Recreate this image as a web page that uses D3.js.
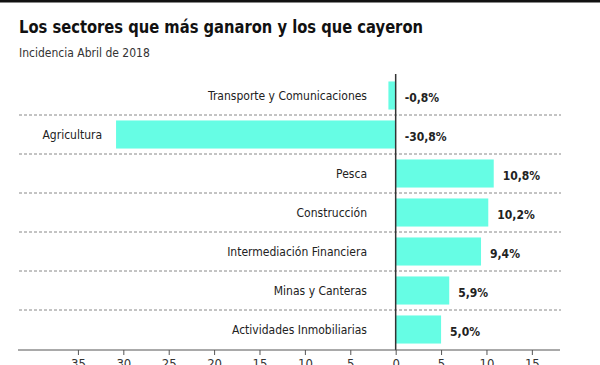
<!DOCTYPE html>
<html><head><meta charset="utf-8">
<script src="https://cdn.jsdelivr.net/npm/d3@7"></script>
<style>
html,body{margin:0;padding:0;background:#fff;}
svg{display:block;}
</style></head>
<body>
<script>
const categories = ["Transporte y Comunicaciones","Agricultura","Pesca","Construcción","Intermediación Financiera","Minas y Canteras","Actividades Inmobiliarias"];
const values = [-0.8,-30.8,10.8,10.2,9.4,5.9,5.0];
const valueLabels = ["-0,8%","-30,8%","10,8%","10,2%","9,4%","5,9%","5,0%"];
const tickValues = [-35,-30,-25,-20,-15,-10,-5,0,5,10,15];
const title = "Los sectores que más ganaron y los que cayeron";
const subtitle = "Incidencia Abril de 2018";

const W=600,H=365;
const font = "'DejaVu Sans Condensed','Liberation Sans Narrow','Arial Narrow',sans-serif";
const svg = d3.select("body").append("svg").attr("width",W).attr("height",H);

svg.append("rect").attr("x",0).attr("y",0).attr("width",W).attr("height",2.5).attr("fill","#111");

svg.append("text").attr("x",19).attr("y",33).attr("font-family",font).attr("font-weight","bold")
  .attr("font-size",18).attr("fill","#111").attr("textLength",404).attr("lengthAdjust","spacingAndGlyphs").text(title);
svg.append("text").attr("x",19).attr("y",57).attr("font-family",font)
  .attr("font-size",12).attr("fill","#333").text(subtitle);

const x = d3.scaleLinear().domain([-41.6,18.1]).range([18,560]);
const y = d3.scaleBand().domain(categories).range([76,349]).paddingInner(0.28).paddingOuter(0.14);
const step = y.step();

// dashed separators
const g = svg.append("g");
categories.slice(1).forEach(c=>{
  const yy = y(c) - y.paddingInner()*step/2;
  g.append("line").attr("x1",x.range()[0]+1).attr("x2",x.range()[1]+1).attr("y1",yy).attr("y2",yy)
   .attr("stroke","#888").attr("stroke-width",1).attr("stroke-dasharray","3,2");
});

// bars
svg.selectAll("rect.bar").data(values).join("rect").attr("class","bar")
  .attr("x",d=>x(Math.min(0,d))).attr("width",d=>Math.abs(x(d)-x(0)))
  .attr("y",(d,i)=>y(categories[i])).attr("height",y.bandwidth())
  .attr("fill","#66fde4");

// category labels
svg.selectAll("text.cat").data(categories).join("text").attr("class","cat")
  .attr("x",(d,i)=>Math.min(367, x(Math.min(0,values[i]))-14)).attr("y",d=>y(d)+y.bandwidth()/2).attr("dy","0.35em")
  .attr("text-anchor","end").attr("font-family",font).attr("font-size",12).attr("fill","#222").text(d=>d);

// value labels
svg.selectAll("text.val").data(values).join("text").attr("class","val")
  .attr("x",d=>x(Math.max(0,d))+9).attr("y",(d,i)=>y(categories[i])+y.bandwidth()/2+2).attr("dy","0.35em")
  .attr("font-family",font).attr("font-weight","bold").attr("font-size",12).attr("fill","#222").text((d,i)=>valueLabels[i]);

// zero line
svg.append("line").attr("x1",x(0)).attr("x2",x(0)).attr("y1",74).attr("y2",350).attr("stroke","#333").attr("stroke-width",1.5);

// axis
const axis = d3.axisBottom(x).tickValues(tickValues).tickFormat(d=>Math.abs(d)).tickSize(5).tickPadding(4);
const ag = svg.append("g").attr("transform","translate(0,350)").call(axis);
ag.select(".domain").attr("stroke","#555").attr("d",`M${x.range()[0]},0H${x.range()[1]}`);
ag.selectAll(".tick line").attr("stroke","#555");
ag.selectAll(".tick text").attr("font-family",font).attr("font-size",13).attr("fill","#333");
</script>
</body></html>
